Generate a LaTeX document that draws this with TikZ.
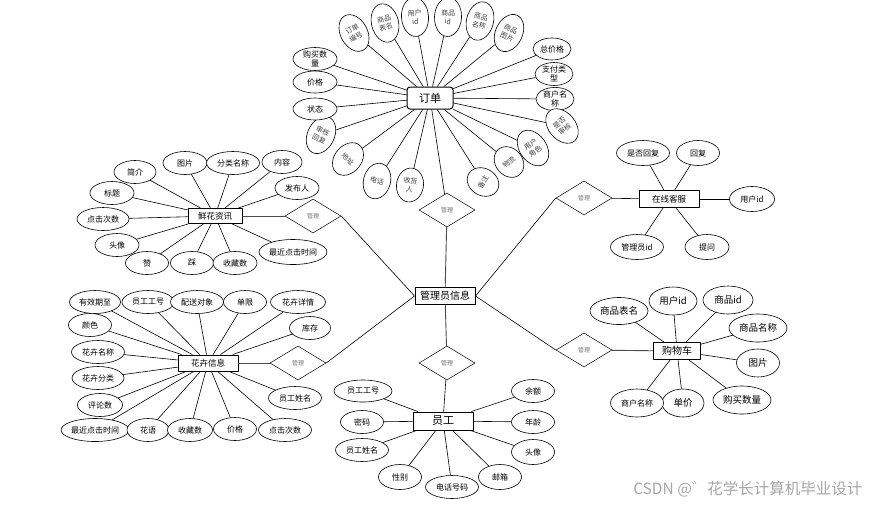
\documentclass[tikz,border=0pt]{standalone}
\usepackage{fontspec}
\newfontfamily\cjk{Noto Sans CJK SC}
\usetikzlibrary{shapes.geometric}

\tikzset{
  attr/.style={ellipse,draw,fill=white,line width=0.6pt,inner sep=0pt,
    minimum width=44pt,minimum height=23pt,align=center},
  tilt/.style={attr,minimum width=27pt,minimum height=39pt,
    font=\cjk\fontsize{7}{8.5}\selectfont,text=black!75},
  entity/.style={draw,fill=white,line width=1pt,inner sep=0pt,minimum height=17pt,
    font=\cjk\fontsize{9.5}{11}\selectfont},
  rel/.style={diamond,draw,fill=white,line width=0.5pt,inner sep=0pt,
    minimum width=56pt,minimum height=34pt,
    font=\cjk\fontsize{6}{7}\selectfont,text=black!55},
  link/.style={line width=0.6pt},
  mainlink/.style={line width=0.9pt,black!70}
}

\begin{document}
\begin{tikzpicture}[x=1pt,y=-1pt,line cap=round,line join=round,
  every node/.style={font=\cjk\fontsize{8}{9}\selectfont}]
  \useasboundingbox (0,0) rectangle (869,504);

  % entities and relations
  \node[entity,minimum width=60pt,font=\cjk\fontsize{10}{11}\selectfont] (admin) at (445,296) {管理员信息};
  \node[entity,minimum width=46pt,minimum height=22pt,rounded corners=3pt,
    font=\cjk\fontsize{11}{12}\selectfont] (order) at (430,98) {订单};
  \node[entity,minimum width=54pt,minimum height=15pt,font=\cjk\fontsize{8.5}{10}\selectfont] (news) at (215,216) {鲜花资讯};
  \node[entity,minimum width=60pt,minimum height=16pt,font=\cjk\fontsize{8.5}{10}\selectfont] (flower) at (208,363) {花卉信息};
  \node[entity,minimum width=60pt,minimum height=18pt,font=\cjk\fontsize{11}{12}\selectfont] (staff) at (443,421) {员工};
  \node[entity,minimum width=60pt,font=\cjk\fontsize{8.5}{10}\selectfont] (service) at (669,199) {在线客服};
  \node[entity,minimum width=47pt,font=\cjk\fontsize{10}{11}\selectfont] (cart) at (677,351) {购物车};

  \node[rel] (r0) at (447,210) {管理};
  \node[rel] (r1) at (313,216) {管理};
  \node[rel] (r2) at (298,363) {管理};
  \node[rel] (r3) at (447,363) {管理};
  \node[rel] (r4) at (584,198) {管理};
  \node[rel] (r5) at (584,350) {管理};

  % order attributes
  \node[tilt,rotate=28] (o1) at (354,33) {订单\\编号};
  \node[tilt,rotate=14] (o2) at (385,23) {商品\\表名};
  \node[tilt,rotate=4] (o3) at (415,17) {用户\\id};
  \node[tilt,rotate=-3] (o4) at (448,17) {商品\\id};
  \node[tilt,rotate=-14] (o5) at (480,21) {商品\\名称};
  \node[tilt,rotate=-25] (o6) at (509,33) {商品\\图片};
  \node[attr,minimum width=38pt,minimum height=22pt] (o7) at (552,49) {总价格};
  \node[attr,minimum width=38pt] (o8) at (554,74) {支付类\\型};
  \node[attr,minimum width=38pt] (o9) at (555,99) {商户名\\称};
  \node[tilt,rotate=40] (o10) at (562,126) {是否\\审核};
  \node[tilt,rotate=35] (o11) at (533,148) {用户\\角色};
  \node[tilt,rotate=40,minimum height=33pt] (o12) at (509,162) {物流};
  \node[tilt,rotate=60,minimum height=33pt] (o13) at (483,182) {备注};
  \node[tilt,rotate=-8,minimum height=34pt] (o14) at (410,185) {收货\\人};
  \node[tilt,rotate=-15,minimum height=36pt] (o15) at (377,181) {电话};
  \node[tilt,rotate=-40,minimum height=36pt] (o16) at (348,159) {地址};
  \node[tilt,rotate=-25] (o17) at (321,135) {审核\\回复};
  \node[attr,minimum height=22pt] (o18) at (315,109) {状态};
  \node[attr,minimum height=22pt] (o19) at (315,82) {价格};
  \node[attr] (o20) at (315,59) {购买数\\量};

  % news attributes
  \node[attr,minimum width=42pt] (n1) at (135,172) {简介};
  \node[attr] (n2) at (185,163) {图片};
  \node[attr,minimum width=53pt] (n3) at (233,163) {分类名称};
  \node[attr,minimum width=40pt] (n4) at (282,162) {内容};
  \node[attr] (n5) at (297,188) {发布人};
  \node[attr] (n6) at (112,193) {标题};
  \node[attr,minimum width=52pt] (n7) at (103,219) {点击次数};
  \node[attr] (n8) at (117,245) {头像};
  \node[attr,minimum width=43pt] (n9) at (147,263) {赞};
  \node[attr,minimum width=43pt] (n10) at (192,263) {踩};
  \node[attr] (n11) at (235,263) {收藏数};
  \node[attr,minimum width=68pt,minimum height=25pt] (n12) at (293,252) {最近点击时间};

  % flower attributes
  \node[attr,minimum width=51pt] (f1) at (95,302) {有效期至};
  \node[attr,minimum width=52pt] (f2) at (148,302) {员工工号};
  \node[attr,minimum width=53pt] (f3) at (197,302) {配送对象};
  \node[attr,minimum width=43pt] (f4) at (245,302) {单限};
  \node[attr,minimum width=55pt] (f5) at (298,302) {花卉详情};
  \node[attr,minimum width=41pt] (f6) at (310,328) {库存};
  \node[attr,minimum width=43pt] (f7) at (90,325) {颜色};
  \node[attr,minimum width=53pt] (f8) at (98,352) {花卉名称};
  \node[attr,minimum width=52pt] (f9) at (98,378) {花卉分类};
  \node[attr,minimum width=45pt] (f10) at (100,405) {评论数};
  \node[attr,minimum width=63pt] (f11) at (95,430) {最近点击时间};
  \node[attr,minimum width=42pt] (f12) at (148,430) {花语};
  \node[attr,minimum width=45pt] (f13) at (190,430) {收藏数};
  \node[attr,minimum width=43pt] (f14) at (235,429) {价格};
  \node[attr,minimum width=53pt] (f15) at (285,430) {点击次数};
  \node[attr,minimum width=53pt] (f16) at (295,398) {员工姓名};

  % staff attributes
  \node[attr,minimum width=58pt,minimum height=22pt] (e1) at (363,391) {员工工号};
  \node[attr,minimum width=43pt] (e2) at (362,422) {密码};
  \node[attr,minimum width=53pt] (e3) at (362,450) {员工姓名};
  \node[attr,minimum width=43pt,minimum height=25pt] (e4) at (400,477) {性别};
  \node[attr,minimum width=53pt] (e5) at (452,487) {电话号码};
  \node[attr,minimum width=43pt,minimum height=25pt] (e6) at (500,477) {邮箱};
  \node[attr,minimum width=43pt,minimum height=25pt] (e7) at (533,452) {头像};
  \node[attr,minimum width=43pt] (e8) at (533,422) {年龄};
  \node[attr,minimum width=43pt] (e9) at (533,391) {余额};

  % service attributes
  \node[attr,minimum width=53pt,minimum height=25pt] (c1) at (643,153) {是否回复};
  \node[attr,minimum width=43pt,minimum height=25pt] (c2) at (698,153) {回复};
  \node[attr,minimum width=45pt,minimum height=25pt] (c3) at (752,199) {用户id};
  \node[attr,minimum width=53pt,minimum height=25pt] (c4) at (637,247) {管理员id};
  \node[attr,minimum width=44pt,minimum height=25pt] (c5) at (707,247) {提问};

  % cart attributes
  \begin{scope}[every node/.style={font=\cjk\fontsize{9.5}{11}\selectfont}]
    \node[attr,minimum width=58pt,minimum height=27pt] (s1) at (619,311) {商品表名};
    \node[attr,minimum width=48pt,minimum height=28pt] (s2) at (673,301) {用户id};
    \node[attr,minimum width=50pt,minimum height=28pt] (s3) at (728,300) {商品id};
    \node[attr,minimum width=58pt,minimum height=28pt] (s4) at (758,328) {商品名称};
    \node[attr,minimum width=43pt,minimum height=28pt] (s5) at (758,363) {图片};
    \node[attr,minimum width=58pt,minimum height=28pt] (s6) at (742,400) {购买数量};
    \node[attr,minimum width=42pt,minimum height=28pt] (s7) at (683,403) {单价};
    \node[attr,minimum width=53pt,minimum height=28pt,font=\cjk\fontsize{8}{9}\selectfont] (s8) at (637,403) {商户名称};
  \end{scope}

  % attribute links
  \foreach \a in {o1,o2,o3,o4,o5,o6,o7,o8,o9,o10,o11,o12,o13,o14,o15,o16,o17,o18,o19,o20}
    \draw[link] (\a) -- (order);
  \foreach \a in {n1,n2,n3,n4,n5,n6,n7,n8,n9,n10,n11,n12}
    \draw[link] (\a) -- (news);
  \foreach \a in {f1,f2,f3,f4,f5,f6,f7,f8,f9,f10,f11,f12,f13,f14,f15,f16}
    \draw[link] (\a) -- (flower);
  \foreach \a in {e1,e2,e3,e4,e5,e6,e7,e8,e9}
    \draw[link] (\a) -- (staff);
  \foreach \a in {c1,c2,c3,c4,c5}
    \draw[link] (\a) -- (service);
  \foreach \a in {s1,s2,s3,s4,s5,s6,s7,s8}
    \draw[link] (\a) -- (cart);

  % relation links
  \draw[mainlink] (admin) -- (r0);
  \draw[link] (r0) -- (order);
  \draw[link] (admin.west) -- (r1.east);
  \draw[mainlink] (r1) -- (news);
  \draw[link] (admin.west) -- (r2.east);
  \draw[mainlink] (r2) -- (flower);
  \draw[mainlink] (admin) -- (r3);
  \draw[link] (r3) -- (staff);
  \draw[link] (admin.east) -- (r4.west);
  \draw[link] (r4) -- (service);
  \draw[link] (admin.east) -- (r5.west);
  \draw[mainlink] (r5) -- (cart);

  \node[font=\cjk\fontsize{15.5}{17}\selectfont,text=black!35,anchor=east] (mark) at (866,489) {CSDN @゛花学长计算机毕业设计};
\end{tikzpicture}
\end{document}
